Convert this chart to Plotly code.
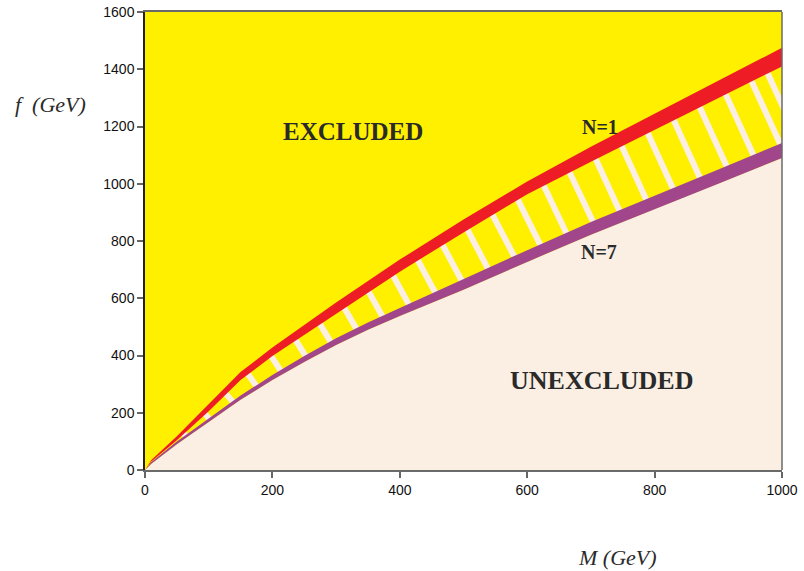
import numpy as np
import plotly.graph_objects as go

# ---- data ----
M = [0, 10, 50, 100, 150, 200, 250, 300, 350, 400, 500, 600, 700, 800, 900, 1000]
n1_upper = [0, 35, 118, 230, 342, 428, 508, 585, 660, 735, 875, 1008, 1129, 1244, 1360, 1475]
n1_lower = [0, 30, 104, 205, 314, 398, 474, 546, 620, 693, 830, 963, 1077, 1188, 1299, 1410]
n7_upper = [0, 28, 100, 180, 260, 332, 398, 460, 515, 566, 668, 768, 866, 959, 1050, 1142]
n7_lower = [0, 22, 90, 168, 245, 314, 377, 437, 490, 538, 630, 727, 822, 912, 1000, 1090]

x_ticks = [0, 200, 400, 600, 800, 1000]
y_ticks = [0, 200, 400, 600, 800, 1000, 1200, 1400, 1600]

YELLOW = "#FFF000"
RED = "#EE1D25"
PURPLE = "#A2468B"
BEIGE = "#FAEFE2"
TEXT = "#2a2a2a"

W, H = 804, 571
ML, MR, MT, MB = 145, 22, 12, 101
PW, PH = W - ML - MR, H - MT - MB
XMAX, YMAX = 1000, 1600
sx, sy = PW / XMAX, PH / YMAX

fig = go.Figure()

# unexcluded region (below N=7 band)
fig.add_trace(go.Scatter(x=M, y=n7_lower, mode="lines", line=dict(width=0),
                         fill="tozeroy", fillcolor=BEIGE, hoverinfo="skip"))

# hatch stripes between N=1 and N=7 bands (geometry derived from the band curves)
Mg = np.linspace(0, 1000, 4001)
rl = np.interp(Mg, M, n1_lower)
pu = np.interp(Mg, M, n7_upper)
mid = (rl + pu) / 2
X = Mg * sx
Y = mid * sy
arc = np.concatenate([[0], np.cumsum(np.hypot(np.diff(X), np.diff(Y)))])
start = np.interp(62, Mg, arc)
sxs, sys_ = [], []
svals = np.linspace(-150, 150, 3001)
for a in np.arange(start, arc[-1] + 30, 29.0):
    xc = np.interp(a, arc, X)
    yc = np.interp(a, arc, Y)
    x1, y1 = np.interp(a - 15, arc, X), np.interp(a - 15, arc, Y)
    x2, y2 = np.interp(a + 15, arc, X), np.interp(a + 15, arc, Y)
    tx, ty = x2 - x1, y2 - y1
    nrm = np.hypot(tx, ty)
    tx, ty = tx / nrm, ty / nrm
    nx, ny = ty, -tx
    px = xc + svals * nx
    py = yc + svals * ny
    Ms = px / sx
    fs = py / sy
    top = (np.interp(Ms, M, n1_upper) + np.interp(Ms, M, n1_lower)) / 2
    bot = (np.interp(Ms, M, n7_upper) + np.interp(Ms, M, n7_lower)) / 2
    valid = (fs <= top) & (fs >= bot)
    c = len(svals) // 2
    if not valid[c]:
        continue
    lo = c
    while lo > 0 and valid[lo - 1]:
        lo -= 1
    hi = c
    while hi < len(svals) - 1 and valid[hi + 1]:
        hi += 1
    sxs += [Ms[lo], Ms[hi], None]
    sys_ += [fs[lo], fs[hi], None]

fig.add_trace(go.Scatter(x=sxs, y=sys_, mode="lines",
                         line=dict(color=BEIGE, width=6), hoverinfo="skip"))

# N=7 band
fig.add_trace(go.Scatter(x=M + M[::-1], y=n7_upper + n7_lower[::-1], mode="lines",
                         line=dict(width=0), fill="toself", fillcolor=PURPLE, hoverinfo="skip"))
# N=1 band
fig.add_trace(go.Scatter(x=M + M[::-1], y=n1_upper + n1_lower[::-1], mode="lines",
                         line=dict(width=0), fill="toself", fillcolor=RED, hoverinfo="skip"))

serif = "Liberation Serif, Times New Roman, serif"
ann = [
    dict(x=326, y=1184, text="<b>EXCLUDED</b>", font=dict(family=serif, size=25, color=TEXT)),
    dict(x=717, y=311, text="<b>UNEXCLUDED</b>", font=dict(family=serif, size=26, color=TEXT)),
    dict(x=714, y=1200, text="<b>N=1</b>", font=dict(family=serif, size=20, color=TEXT)),
    dict(x=713, y=763, text="<b>N=7</b>", font=dict(family=serif, size=20, color=TEXT)),
]
for a in ann:
    a.update(xref="x", yref="y", showarrow=False, xanchor="center", yanchor="middle")
ann.append(dict(x=(13 - ML) / PW, y=(MT + PH - 105) / PH, xref="paper", yref="paper",
                text="<i>f  (GeV)</i>", showarrow=False, xanchor="left", yanchor="middle",
                font=dict(family=serif, size=22, color=TEXT)))
ann.append(dict(x=(617 - ML) / PW, y=(MT + PH - 557) / PH, xref="paper", yref="paper",
                text="<i>M (GeV)</i>", showarrow=False, xanchor="center", yanchor="middle",
                font=dict(family=serif, size=22, color=TEXT)))

tickfont = dict(family="Liberation Sans, Arial, sans-serif", size=14, color="#111")
fig.update_layout(
    width=W, height=H,
    margin=dict(l=ML, r=MR, t=MT, b=MB, pad=0, autoexpand=False),
    paper_bgcolor="white", plot_bgcolor=YELLOW,
    showlegend=False,
    annotations=ann,
    xaxis=dict(range=[0, XMAX], tickvals=x_ticks, ticks="outside", ticklen=6,
               tickcolor="#666", tickwidth=1.5, showgrid=False, zeroline=False,
               showline=True, linecolor="#6a6a6a", linewidth=1.5, mirror=True,
               tickfont=tickfont, fixedrange=True, automargin=False),
    yaxis=dict(range=[0, YMAX], tickvals=y_ticks, ticks="outside", ticklen=6,
               tickcolor="#666", tickwidth=1.5, showgrid=False, zeroline=False,
               showline=True, linecolor="#222", linewidth=1.5, mirror=False,
               tickfont=tickfont, fixedrange=True, automargin=False),
    shapes=[dict(type="line", xref="paper", yref="paper", x0=1, x1=1, y0=0, y1=1,
                 line=dict(color="#6a6a6a", width=1.5))],
)

fig.write_html("out.html", config={"displayModeBar": False},
               post_script="document.body.style.margin='0';document.body.style.overflow='hidden';")
